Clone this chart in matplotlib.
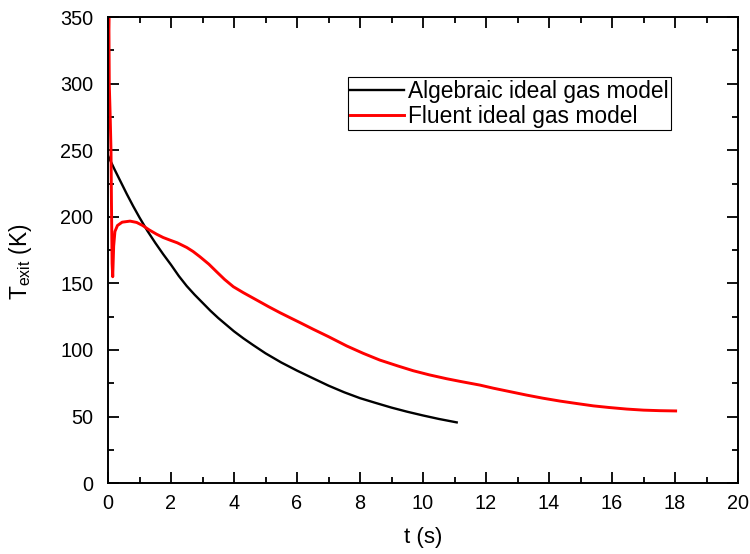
import matplotlib
matplotlib.use("Agg")
import matplotlib.pyplot as plt
from matplotlib.ticker import MultipleLocator

plt.rcParams["font.family"] = ["Liberation Sans", "DejaVu Sans"]
plt.rcParams["mathtext.fontset"] = "custom"
plt.rcParams["mathtext.rm"] = "Liberation Sans"
plt.rcParams["mathtext.it"] = "Liberation Sans"

# Algebraic ideal gas model: exit temperature vs time
t_alg = [0.0, 0.2, 0.4, 0.6, 0.8, 1.0, 1.25, 1.5, 1.75, 2.0, 2.25, 2.5, 2.75, 3.0,
         3.25, 3.5, 3.75, 4.0, 4.3, 4.6, 5.0, 5.5, 6.0, 6.52, 7.0, 7.5, 8.0, 8.5,
         9.0, 9.5, 10.0, 10.5, 11.07]
T_alg = [246, 236, 226.5, 217, 208, 199.5, 189.5, 180.5, 172, 164, 155.5, 148, 141.5, 135.5,
         129.5, 124, 119, 114, 108.7, 103.8, 97.5, 90.6, 84.5, 78.6, 73.2, 68.2, 63.8, 60.2,
         56.7, 53.6, 50.8, 48.2, 45.6]

# Fluent ideal gas model: exit temperature vs time
t_flu = [0.05, 0.03, 0.04, 0.07, 0.095, 0.11, 0.13, 0.15, 0.18, 0.22, 0.3, 0.45, 0.7,
         0.91, 1.1, 1.3, 1.54, 1.75, 1.97, 2.2, 2.5, 2.7, 2.92, 3.2, 3.45, 3.7, 3.98,
         4.3, 4.72, 5.1, 5.46, 5.8, 6.1, 6.52, 7.0, 7.58, 8.1, 8.63, 9.2, 9.69, 10.2,
         10.75, 11.2, 11.81, 12.23, 12.8, 13.29, 13.8, 14.35, 14.9, 15.41, 15.9, 16.47,
         17.0, 17.52, 18.02]
T_flu = [380, 340, 300, 275, 250, 210, 165, 155, 178, 189, 193.5, 196, 196.8,
         195.8, 193.5, 190.3, 187, 184.5, 182.5, 180.5, 177, 174, 170, 164.5, 158.7, 153, 147.5,
         143, 137.5, 132.5, 128, 124, 120.5, 115.5, 110, 103, 97.5, 92.4, 88, 84.4, 81.3,
         78.4, 76.3, 73.6, 71.3, 68.5, 66.1, 63.8, 61.6, 59.7, 58.0, 56.8, 55.6,
         54.8, 54.4, 54.2]

fig = plt.figure(figsize=(7.5, 5.54), dpi=100)
ax = fig.add_axes([0.144, 0.128, 0.84, 0.841])

ax.plot(t_alg, T_alg, color="black", lw=1.7, label="Algebraic ideal gas model")
ax.plot(t_flu, T_flu, color="red", lw=2.1, label="Fluent ideal gas model")

ax.set_xlim(0, 20)
ax.set_ylim(0, 350)
ax.xaxis.set_major_locator(MultipleLocator(2))
ax.xaxis.set_minor_locator(MultipleLocator(1))
ax.yaxis.set_major_locator(MultipleLocator(50))
ax.yaxis.set_minor_locator(MultipleLocator(25))
ax.tick_params(which="both", direction="in", top=True, right=True, width=1.3)
ax.tick_params(which="major", length=8, labelsize=14.3)
ax.tick_params(axis="x", which="major", pad=8)
ax.tick_params(axis="y", which="major", pad=10.5)
ax.tick_params(which="minor", length=4)
for sp in ax.spines.values():
    sp.set_linewidth(1.4)

ax.set_xlabel("t (s)", fontsize=16, labelpad=10)
ax.set_ylabel(r"T$_{\mathrm{exit}}$ (K)", fontsize=16.4)
ax.yaxis.set_label_coords(-0.118, 0.476)

leg = ax.legend(loc="upper left", bbox_to_anchor=(0.381, 0.871), borderaxespad=0,
                fontsize=16.4, fancybox=False, framealpha=1, edgecolor="black",
                handlelength=2.35, handletextpad=0.2, borderpad=0.1, labelspacing=0.1)
leg.get_frame().set_linewidth(0.8)

fig.savefig("out.png", dpi=100)
